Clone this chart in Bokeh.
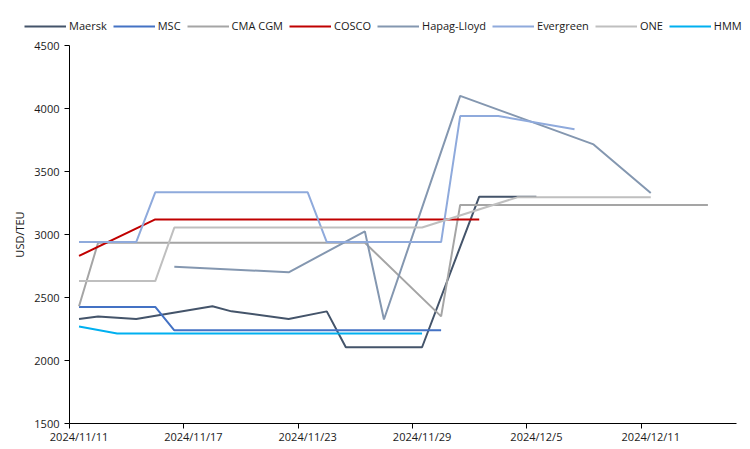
import pandas as pd
from bokeh.plotting import figure
from bokeh.layouts import column
from bokeh.models import Range1d, FixedTicker, Legend, LegendItem
from bokeh.embed import file_html
from bokeh.resources import INLINE

# ---- data ----
tick_labels = ["2024/11/11", "2024/11/17", "2024/11/23", "2024/11/29", "2024/12/5", "2024/12/11"]
axis_first_day = "2024/11/11"
axis_last_day = "2024/12/15"
y_ticks = [1500, 2000, 2500, 3000, 3500, 4000, 4500]

carriers = ["Maersk", "MSC", "CMA CGM", "COSCO", "Hapag-Lloyd", "Evergreen", "ONE", "HMM"]
colors = ["#44546A", "#4472C4", "#A5A5A5", "#C00000", "#8497B0", "#8FAADC", "#BFBFBF", "#00B0F0"]

maersk_dates = ["2024/11/11", "2024/11/12", "2024/11/14", "2024/11/18", "2024/11/19", "2024/11/22",
                "2024/11/24", "2024/11/25", "2024/11/29", "2024/12/2", "2024/12/5"]
maersk_values = [2330, 2350, 2330, 2430, 2390, 2330, 2390, 2105, 2105, 3300, 3300]

msc_dates = ["2024/11/11", "2024/11/15", "2024/11/16", "2024/11/30"]
msc_values = [2425, 2425, 2240, 2240]

cma_dates = ["2024/11/11", "2024/11/12", "2024/11/26", "2024/11/30", "2024/12/1", "2024/12/14"]
cma_values = [2430, 2935, 2935, 2350, 3235, 3235]

cosco_dates = ["2024/11/11", "2024/11/15", "2024/12/2"]
cosco_values = [2830, 3120, 3120]

hapag_dates = ["2024/11/16", "2024/11/22", "2024/11/26", "2024/11/27", "2024/12/1", "2024/12/8", "2024/12/11"]
hapag_values = [2745, 2700, 3025, 2325, 4100, 3715, 3330]

evergreen_dates = ["2024/11/11", "2024/11/14", "2024/11/15", "2024/11/23", "2024/11/24", "2024/11/30",
                   "2024/12/1", "2024/12/3", "2024/12/7"]
evergreen_values = [2940, 2940, 3335, 3335, 2940, 2940, 3940, 3940, 3835]

one_dates = ["2024/11/11", "2024/11/15", "2024/11/16", "2024/11/29", "2024/12/4", "2024/12/11"]
one_values = [2630, 2630, 3055, 3055, 3295, 3295]

hmm_dates = ["2024/11/11", "2024/11/13", "2024/11/29"]
hmm_values = [2270, 2215, 2215]

series_dates = [maersk_dates, msc_dates, cma_dates, cosco_dates, hapag_dates, evergreen_dates, one_dates, hmm_dates]
series_values = [maersk_values, msc_values, cma_values, cosco_values, hapag_values, evergreen_values, one_values, hmm_values]

# ---- main figure ----
FMT = "%Y/%m/%d"
half_day = pd.Timedelta(hours=12)
x_start = pd.to_datetime(axis_first_day, format=FMT) - half_day
x_end = pd.to_datetime(axis_last_day, format=FMT) + half_day

LEG_H = 34
p = figure(width=750, height=449 - LEG_H, output_backend="svg", toolbar_location=None,
           x_axis_type="datetime",
           x_range=Range1d(x_start, x_end), y_range=Range1d(1500, 4500),
           min_border_left=69, min_border_right=14, min_border_top=45 - LEG_H, min_border_bottom=26)
p.outline_line_color = None
p.xgrid.visible = False
p.ygrid.visible = False
p.frame_align = False

for name, col, d, v in zip(carriers, colors, series_dates, series_values):
    xs = pd.to_datetime(d, format=FMT)
    p.line(xs, v, line_color=col, line_width=2)

tick_ts = pd.to_datetime(tick_labels, format=FMT)
tick_ms = [float(t.value // 10**6) for t in tick_ts]
minor_ms = [float((t - half_day).value // 10**6) for t in tick_ts]

xa = p.xaxis[0]
xa.ticker = FixedTicker(ticks=tick_ms, minor_ticks=minor_ms)
xa.major_label_overrides = {m: lab for m, lab in zip(tick_ms, tick_labels)}
xa.major_tick_in = 0
xa.major_tick_out = 0
xa.minor_tick_in = 0
xa.minor_tick_out = 5
xa.major_label_standoff = 0
xa.axis_line_color = "black"
xa.minor_tick_line_color = "black"

ya = p.yaxis[0]
ya.ticker = FixedTicker(ticks=y_ticks, minor_ticks=[])
ya.major_tick_in = 0
ya.major_tick_out = 5
ya.minor_tick_line_color = None
ya.major_label_standoff = 5
ya.axis_label = "USD/TEU"
ya.axis_label_standoff = 4
ya.axis_line_color = "black"
ya.major_tick_line_color = "black"

for ax in (xa, ya):
    ax.major_label_text_font = "Open Sans"
    ax.major_label_text_font_size = "11px"
    ax.major_label_text_color = "#1a1a1a"
    ax.axis_label_text_font = "Open Sans"
    ax.axis_label_text_font_size = "11px"
    ax.axis_label_text_font_style = "normal"
    ax.axis_label_text_color = "#1a1a1a"

# ---- legend strip (swatch lines sit outside the strip's visible range) ----
leg = figure(width=750, height=LEG_H, output_backend="svg", toolbar_location=None,
             x_range=Range1d(0, 1), y_range=Range1d(0, 1),
             x_axis_location=None, y_axis_location=None,
             min_border_left=0, min_border_right=0, min_border_top=0, min_border_bottom=0)
leg.outline_line_color = None
leg.xgrid.visible = False
leg.ygrid.visible = False
leg.frame_align = False
swatches = [leg.line(x=[-10, -9], y=[-10, -9], line_color=col, line_width=2) for col in colors]

legend = Legend(items=[LegendItem(label=n, renderers=[r]) for n, r in zip(carriers, swatches)],
                orientation="horizontal", location=(24, 1),
                glyph_width=42, glyph_height=12, label_height=12, label_standoff=3,
                spacing=6, padding=0, margin=0,
                border_line_alpha=0, background_fill_alpha=0,
                label_text_font="Open Sans", label_text_font_size="11px",
                label_text_color="#1a1a1a")
leg.add_layout(legend)

layout = column(leg, p, spacing=0)
open("out.html", "w").write(file_html(layout, INLINE))
